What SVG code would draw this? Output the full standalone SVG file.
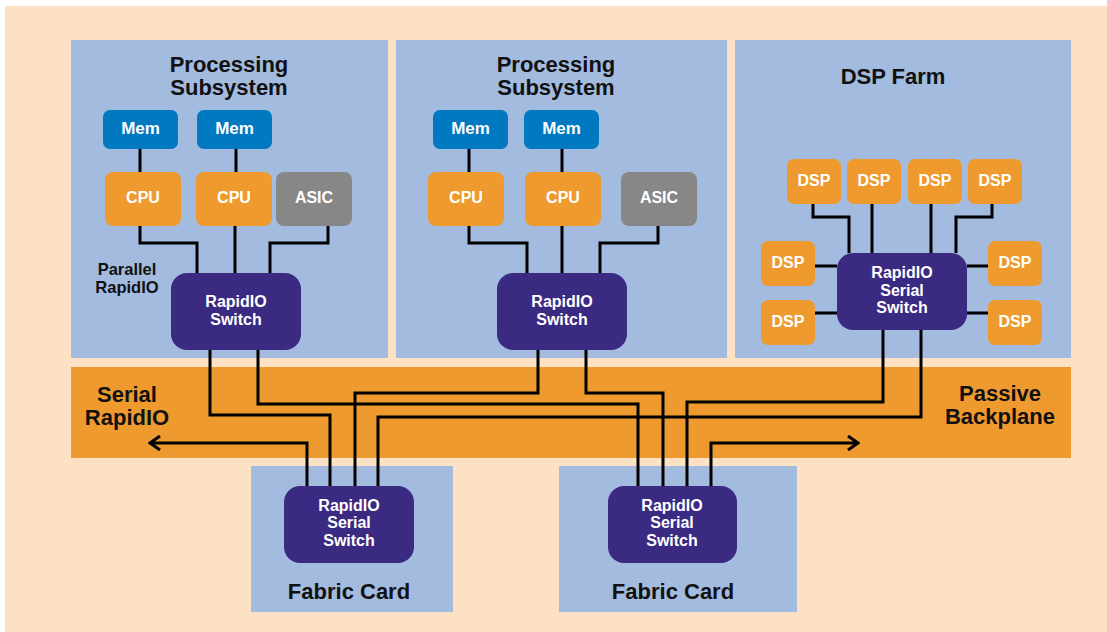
<svg xmlns="http://www.w3.org/2000/svg" width="1107" height="632" viewBox="0 0 1107 632">
<defs>
<style>
.bg{fill:#FCE1C4}
.panel{fill:#A3BBDF}
.band{fill:#EF9A2E}
.mem{fill:#0079C1}
.cpu{fill:#EF9A2E}
.asic{fill:#878787}
.sw{fill:#3B2A82}
.t{font-family:"Liberation Sans",Arial,sans-serif;font-weight:bold;text-anchor:middle}
.title{font-size:22px;fill:#111}
.wt{fill:#fff}
.s16{font-size:16px}
.s17{font-size:17px}
.lbl{font-size:16.5px;fill:#111}
.big{font-size:22px;fill:#111}
.ln{fill:none;stroke:#000;stroke-width:3}
</style>
<marker id="arr" viewBox="0 0 14 16" refX="12" refY="8" markerWidth="14" markerHeight="16" markerUnits="userSpaceOnUse" orient="auto">
<path d="M2,1 L12,8 L2,15" fill="none" stroke="#000" stroke-width="3"/>
</marker>
</defs>
<rect x="5" y="6" width="1102" height="626" class="bg"/>

<g id="backplane">
<rect x="71" y="367" width="1000" height="91" class="band"/>
<text class="t big" x="127" y="402">Serial</text>
<text class="t big" x="127" y="425">RapidIO</text>
<text class="t big" x="1000" y="401">Passive</text>
<text class="t big" x="1000" y="424">Backplane</text>
</g>

<g id="ps1">
<rect x="71" y="40" width="317" height="318" class="panel"/>
<text class="t title" x="229" y="72">Processing</text>
<text class="t title" x="229" y="95">Subsystem</text>
<text class="t lbl" x="127" y="275">Parallel</text>
<text class="t lbl" x="127" y="293">RapidIO</text>
</g>
<g id="ps2">
<rect x="396" y="40" width="331" height="318" class="panel"/>
<text class="t title" x="556" y="72">Processing</text>
<text class="t title" x="556" y="95">Subsystem</text>
</g>
<g id="dspfarm">
<rect x="735" y="40" width="336" height="318" class="panel"/>
<text class="t title" x="893" y="84">DSP Farm</text>
</g>
<g id="fc1">
<rect x="251" y="466" width="202" height="146" class="panel"/>
<text class="t big" x="349" y="599">Fabric Card</text>
</g>
<g id="fc2">
<rect x="559" y="466" width="238" height="146" class="panel"/>
<text class="t big" x="673" y="599">Fabric Card</text>
</g>

<g id="connectors">
<path class="ln" d="M140,149V172M236,149V172"/>
<path class="ln" d="M140,226V243H197V273M235,226V273M328,226V243H270V273"/>
<path class="ln" d="M469,149V172M562,149V172"/>
<path class="ln" d="M469,226V243H527V273M562,226V273M658,226V243H600V273"/>
<path class="ln" d="M813,204V217H849V253M872,204V253M931,204V253M992,204V217H956V253"/>
<path class="ln" d="M815,266H837M815,313H837M967,266H988M967,313H988"/>
<path class="ln" d="M210,350V415H330V486"/>
<path class="ln" d="M258,350V404H638V486"/>
<path class="ln" d="M538,350V393H355V486"/>
<path class="ln" d="M586,350V393H663V486"/>
<path class="ln" d="M883,330V402H687V486"/>
<path class="ln" d="M921,330V417H378V486"/>
<path class="ln" d="M307,486V443H150" marker-end="url(#arr)"/>
<path class="ln" d="M711,486V443H858" marker-end="url(#arr)"/>
</g>

<g id="mem1a"><rect x="103" y="110" width="75" height="39" rx="7" class="mem"/><text class="t wt s17" x="140.5" y="134">Mem</text></g>
<g id="mem1b"><rect x="197" y="110" width="75" height="39" rx="7" class="mem"/><text class="t wt s17" x="234.5" y="134">Mem</text></g>
<g id="cpu1a"><rect x="105" y="172" width="76" height="54" rx="8" class="cpu"/><text class="t wt s16" x="143" y="203">CPU</text></g>
<g id="cpu1b"><rect x="196" y="172" width="76" height="54" rx="8" class="cpu"/><text class="t wt s16" x="234" y="203">CPU</text></g>
<g id="asic1"><rect x="276" y="172" width="76" height="54" rx="8" class="asic"/><text class="t wt s16" x="314" y="203">ASIC</text></g>
<g id="sw1"><rect x="171" y="273" width="130" height="77" rx="16" class="sw"/><text class="t wt s16" x="236" y="307">RapidIO</text><text class="t wt s16" x="236" y="325">Switch</text></g>

<g id="mem2a"><rect x="433" y="110" width="75" height="39" rx="7" class="mem"/><text class="t wt s17" x="470.5" y="134">Mem</text></g>
<g id="mem2b"><rect x="524" y="110" width="75" height="39" rx="7" class="mem"/><text class="t wt s17" x="561.5" y="134">Mem</text></g>
<g id="cpu2a"><rect x="428" y="172" width="76" height="54" rx="8" class="cpu"/><text class="t wt s16" x="466" y="203">CPU</text></g>
<g id="cpu2b"><rect x="525" y="172" width="76" height="54" rx="8" class="cpu"/><text class="t wt s16" x="563" y="203">CPU</text></g>
<g id="asic2"><rect x="621" y="172" width="76" height="54" rx="8" class="asic"/><text class="t wt s16" x="659" y="203">ASIC</text></g>
<g id="sw2"><rect x="497" y="273" width="130" height="77" rx="16" class="sw"/><text class="t wt s16" x="562" y="307">RapidIO</text><text class="t wt s16" x="562" y="325">Switch</text></g>

<g id="dsp1"><rect x="787" y="159" width="54" height="45" rx="7" class="cpu"/><text class="t wt s16" x="814" y="186">DSP</text></g>
<g id="dsp2"><rect x="847" y="159" width="54" height="45" rx="7" class="cpu"/><text class="t wt s16" x="874" y="186">DSP</text></g>
<g id="dsp3"><rect x="908" y="159" width="54" height="45" rx="7" class="cpu"/><text class="t wt s16" x="935" y="186">DSP</text></g>
<g id="dsp4"><rect x="968" y="159" width="54" height="45" rx="7" class="cpu"/><text class="t wt s16" x="995" y="186">DSP</text></g>
<g id="dsp5"><rect x="761" y="241" width="54" height="45" rx="7" class="cpu"/><text class="t wt s16" x="788" y="268">DSP</text></g>
<g id="dsp6"><rect x="761" y="300" width="54" height="45" rx="7" class="cpu"/><text class="t wt s16" x="788" y="327">DSP</text></g>
<g id="dsp7"><rect x="988" y="241" width="54" height="45" rx="7" class="cpu"/><text class="t wt s16" x="1015" y="268">DSP</text></g>
<g id="dsp8"><rect x="988" y="300" width="54" height="45" rx="7" class="cpu"/><text class="t wt s16" x="1015" y="327">DSP</text></g>
<g id="sw3"><rect x="837" y="253" width="130" height="77" rx="16" class="sw"/><text class="t wt s16" x="902" y="278">RapidIO</text><text class="t wt s16" x="902" y="296">Serial</text><text class="t wt s16" x="902" y="313">Switch</text></g>

<g id="fsw1"><rect x="284" y="486" width="130" height="77" rx="16" class="sw"/><text class="t wt s16" x="349" y="511">RapidIO</text><text class="t wt s16" x="349" y="528">Serial</text><text class="t wt s16" x="349" y="546">Switch</text></g>
<g id="fsw2"><rect x="608" y="486" width="129" height="77" rx="16" class="sw"/><text class="t wt s16" x="672" y="511">RapidIO</text><text class="t wt s16" x="672" y="528">Serial</text><text class="t wt s16" x="672" y="546">Switch</text></g>
</svg>
